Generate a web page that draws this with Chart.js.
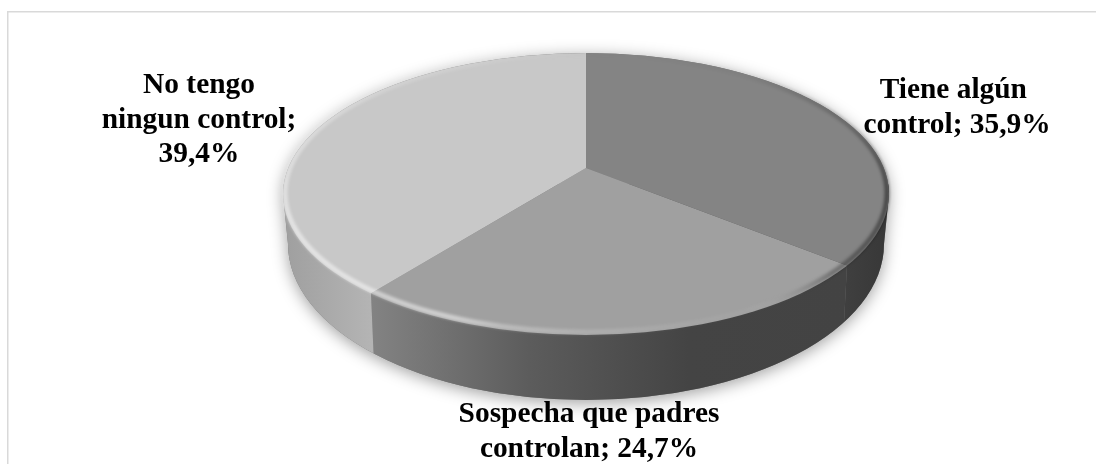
<!DOCTYPE html>
<html>
<head>
<meta charset="utf-8">
<title>Control de padres</title>
<script src="https://cdn.jsdelivr.net/npm/chart.js@4"></script>
<style>
html, body { margin: 0; padding: 0; background: #fff; overflow: hidden; }
#wrap { position: relative; width: 1096px; height: 464px; }
</style>
</head>
<body>
<div id="wrap"><canvas id="chart1"></canvas></div>
<script>
var categories = ['Tiene algún control', 'Sospecha que padres controlan', 'No tengo ningun control'];
var values = [35.9, 24.7, 39.4];
var labelLines = [
    ['Tiene algún ', 'control;'],
    ['Sospecha que padres', 'controlan;'],
    ['No tengo', 'ningun control;', '']
];

var topColors = ['#848484', '#a0a0a0', '#c8c8c8'];
var wallColors = [
    ['#3f3f3f', '#383838'],
    ['#838383', '#5c5c5c', '#444444', '#434343'],
    ['#a0a0a0', '#b4b4b4']
];
var labelPlaces = [[957, 98], [589, 422], [199, 93]];

// the tilted disc: the library draws a big pie squashed around its centre,
// and it is cut down to this ellipse
var tilt = 0.458;
var face = { x: 586, y: 194, rx: 303, ry: 141 };
var base = { x: 586, y: 244, rx: 298, ry: 156 };

function ellipsePath(ctx, e) {
    ctx.beginPath();
    ctx.ellipse(e.x, e.y, e.rx, e.ry, 0, 0, Math.PI * 2);
}

function bodyPath(ctx) {
    ctx.beginPath();
    ctx.ellipse(face.x, face.y, face.rx, face.ry, 0, Math.PI, Math.PI * 2);
    ctx.lineTo(base.x + base.rx, base.y);
    ctx.ellipse(base.x, base.y, base.rx, base.ry, 0, 0, Math.PI);
    ctx.closePath();
}

// where a ray leaving the pie centre meets the rim of the face
function rimPoint(arc, angle) {
    var dx = Math.cos(angle) / face.rx;
    var dy = tilt * Math.sin(angle) / face.ry;
    var oy = (arc.y - face.y) / face.ry;
    var a = dx * dx + dy * dy;
    var b = 2 * oy * dy;
    var c = oy * oy - 1;
    var t = (-b + Math.sqrt(b * b - 4 * a * c)) / (2 * a);
    return { x: arc.x + t * Math.cos(angle), y: arc.y + t * tilt * Math.sin(angle) };
}

// x of a wall seam at height y, the seams lean in a little going down
function seamX(p, y) {
    return p.x - (y - p.y) * 0.052 * (p.x - face.x) / 260;
}

function fillWall(ctx, arc, colors) {
    var from = arc.startAngle, to = arc.endAngle;
    if (to <= 0 || from >= Math.PI) return;
    var top = face.y - 10, bottom = base.y + base.ry + 10;
    var p1 = rimPoint(arc, Math.max(from, 0));
    var p2 = rimPoint(arc, Math.min(to, Math.PI));
    // pieces that run round the side of the disc go past its edge
    var r1 = from <= 0 ? 40 : 0;
    var l2 = to >= Math.PI ? 40 : 0;
    var grad = ctx.createLinearGradient(p2.x, 0, p1.x, 0);
    colors.forEach(function (c, k) {
        grad.addColorStop(k / (colors.length - 1), c);
    });
    ctx.fillStyle = grad;
    ctx.beginPath();
    ctx.moveTo(seamX(p1, top) + r1, top);
    ctx.lineTo(seamX(p1, bottom) + r1, bottom);
    ctx.lineTo(seamX(p2, bottom) - l2, bottom);
    ctx.lineTo(seamX(p2, top) - l2, top);
    ctx.closePath();
    ctx.fill();
}

var discPlugin = {
    id: 'disc',
    beforeDatasetsDraw: function (chart) {
        var ctx = chart.ctx;
        var arcs = chart.getDatasetMeta(0).data;

        // soft shadow under the disc
        ctx.save();
        ctx.shadowColor = 'rgba(0,0,0,0.38)';
        ctx.shadowBlur = 16;
        ctx.shadowOffsetY = 3;
        ctx.fillStyle = '#777';
        bodyPath(ctx);
        ctx.fill();
        ctx.restore();

        // side wall, one piece per slice
        ctx.save();
        bodyPath(ctx);
        ctx.clip();
        arcs.forEach(function (arc, i) {
            fillWall(ctx, arc, wallColors[i]);
        });
        ctx.restore();

        // the library's pie, squashed and cut to the face
        ctx.save();
        ellipsePath(ctx, face);
        ctx.clip();
        var cy = arcs[0].y;
        ctx.translate(0, cy);
        ctx.scale(1, tilt);
        ctx.translate(0, -cy);
    },
    afterDatasetsDraw: function (chart) {
        var ctx = chart.ctx;
        ctx.restore();

        // bevel round the rim, its strength goes with the angle
        ctx.save();
        var grad = ctx.createConicGradient(0, face.x, face.y);
        grad.addColorStop(0, 'rgba(0,0,0,0.45)');
        grad.addColorStop(0.05, 'rgba(0,0,0,0.28)');
        grad.addColorStop(0.1, 'rgba(255,255,255,0.03)');
        grad.addColorStop(0.25, 'rgba(255,255,255,0.16)');
        grad.addColorStop(0.34, 'rgba(255,255,255,0.3)');
        grad.addColorStop(0.38, 'rgba(255,255,255,0.5)');
        grad.addColorStop(0.48, 'rgba(255,255,255,0.5)');
        grad.addColorStop(0.58, 'rgba(255,255,255,0.18)');
        grad.addColorStop(0.7, 'rgba(255,255,255,0.03)');
        grad.addColorStop(0.8, 'rgba(0,0,0,0)');
        grad.addColorStop(0.9, 'rgba(0,0,0,0.03)');
        grad.addColorStop(0.96, 'rgba(0,0,0,0.2)');
        grad.addColorStop(1, 'rgba(0,0,0,0.45)');
        ctx.filter = 'blur(1.8px)';
        ctx.strokeStyle = grad;
        ctx.lineWidth = 5;
        ctx.beginPath();
        ctx.ellipse(face.x, face.y - 1, face.rx - 2, face.ry - 2, 0, 0, Math.PI * 2);
        ctx.stroke();
        ctx.restore();
    },
    afterDraw: function (chart) {
        var ctx = chart.ctx;

        // frame: only the top and left edges are in the picture
        ctx.save();
        ctx.strokeStyle = '#d9d9d9';
        ctx.lineWidth = 1.5;
        ctx.beginPath();
        ctx.moveTo(7.75, chart.height);
        ctx.lineTo(7.75, 11.75);
        ctx.lineTo(chart.width, 11.75);
        ctx.stroke();

        // data labels
        ctx.fillStyle = '#000';
        ctx.font = 'bold 29.4px "Liberation Serif"';
        ctx.textAlign = 'center';
        ctx.textBaseline = 'alphabetic';
        var lineGap = 34.7;
        values.forEach(function (v, i) {
            var text = v.toFixed(1).replace('.', ',') + '%';
            var lines = labelLines[i].slice();
            var last = lines.length - 1;
            lines[last] = (lines[last] + ' ' + text).trim();
            lines.forEach(function (line, k) {
                ctx.fillText(line, labelPlaces[i][0], labelPlaces[i][1] + k * lineGap);
            });
        });
        ctx.restore();
    }
};

var ctx1 = document.getElementById('chart1').getContext('2d');

var chart1 = new Chart(ctx1, {
    type: 'pie',
    data: {
        labels: categories,
        datasets: [{
            data: values,
            backgroundColor: topColors,
            borderWidth: 0,
            clip: false
        }]
    },
    options: {
        responsive: true,
        maintainAspectRatio: false,
        animation: false,
        radius: 900,
        layout: { padding: { left: 76, bottom: 128 } },
        plugins: {
            legend: { display: false },
            tooltip: { enabled: false }
        }
    },
    plugins: [discPlugin]
});
</script>
</body>
</html>
